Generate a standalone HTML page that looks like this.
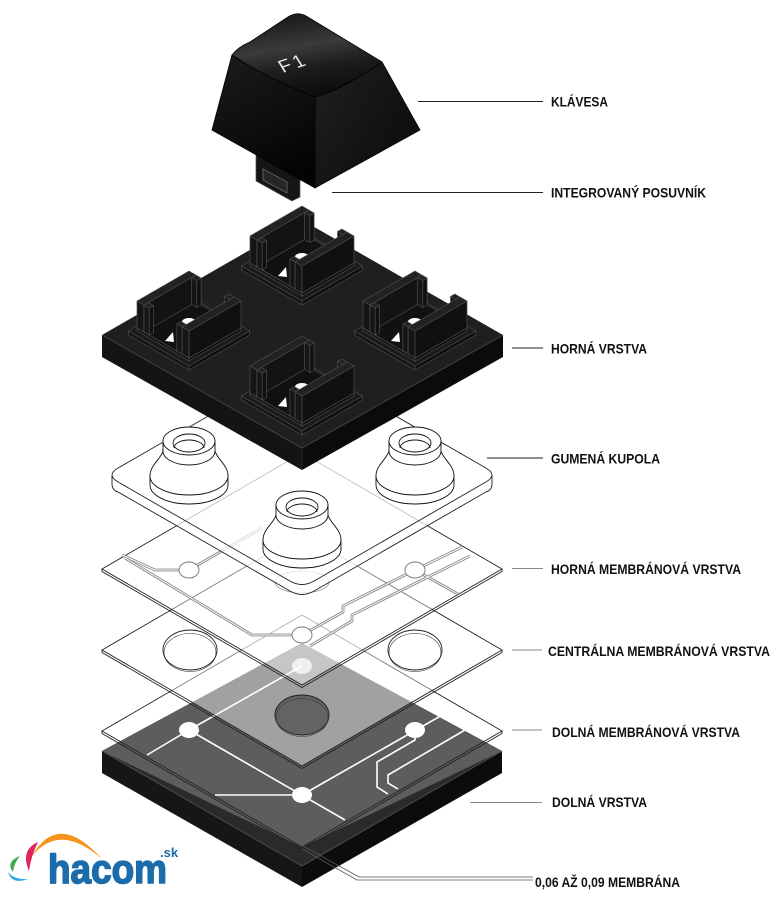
<!DOCTYPE html>
<html><head><meta charset="utf-8"><style>html,body{margin:0;padding:0;background:#fff}svg{display:block}</style></head>
<body>
<svg width="777" height="899" viewBox="0 0 777 899" xmlns="http://www.w3.org/2000/svg" xmlns:xlink="http://www.w3.org/1999/xlink">
<defs>
<linearGradient id="ktop" gradientUnits="userSpaceOnUse" x1="300" y1="18" x2="312" y2="96">
<stop offset="0" stop-color="#1e1e1e"/><stop offset="0.35" stop-color="#3a3a3a"/><stop offset="0.65" stop-color="#1c1c1c"/><stop offset="1" stop-color="#0c0c0c"/></linearGradient>
<linearGradient id="kleft" gradientUnits="userSpaceOnUse" x1="230" y1="60" x2="290" y2="180">
<stop offset="0" stop-color="#1a1a1a"/><stop offset="1" stop-color="#030303"/></linearGradient>
<linearGradient id="kright" gradientUnits="userSpaceOnUse" x1="330" y1="90" x2="410" y2="140">
<stop offset="0" stop-color="#1c1c1c"/><stop offset="1" stop-color="#0e0e0e"/></linearGradient>
<g id="hs" stroke="#4e4e4e" stroke-width="0.7" stroke-linejoin="round">
<polygon points="-60.6,-4 0,31 0,35 -60.6,0" fill="#141414"/>
<polygon points="0,31 60.6,-4 60.6,0 0,35" fill="#0e0e0e"/>
<polygon points="-60.6,-4 0,31 60.6,-4 0,-39" fill="#1b1b1b"/>
<polygon points="-52,-7 0,23 0,26 -52,-4" fill="#141414"/>
<polygon points="0,23 52,-7 52,-4 0,26" fill="#0e0e0e"/>
<polygon points="-52,-7 0,23 52,-7 0,-37" fill="#111"/>
<polygon points="-24,6 -15,7 -16,-3" fill="#fff" stroke="none"/>
<ellipse cx="0" cy="-13" rx="7" ry="4" fill="#fff" stroke="none"/>
<polygon points="-52,-34 -45,-30 -45,-3 -52,-7" fill="#151515"/>
<polygon points="-45,-30 6.9,-60 6.9,-33 -45,-3" fill="#131313"/>
<polygon points="-52,-34 -45,-30 6.9,-60 0,-64" fill="#222"/>
<polygon points="-45,-30 -39.8,-27 -39.8,0 -45,-3" fill="#151515"/>
<polygon points="-39.8,-27 -35.5,-29.5 -35.5,-2.5 -39.8,0" fill="#101010"/>
<polygon points="-45,-30 -39.8,-27 -35.5,-29.5 -40.7,-32.5" fill="#222"/>
<polygon points="2.6,-57.5 7.8,-54.5 7.8,-27.5 2.6,-30.5" fill="#151515"/>
<polygon points="7.8,-54.5 12.1,-57 12.1,-30 7.8,-27.5" fill="#101010"/>
<polygon points="2.6,-57.5 7.8,-54.5 12.1,-57 6.9,-60" fill="#222"/>
<polygon points="35.5,-38.5 40.7,-35.5 40.7,-8.5 35.5,-11.5" fill="#151515"/>
<polygon points="35.5,-38.5 40.7,-35.5 45,-38 39.8,-41" fill="#222"/>
<polygon points="-12.1,-11 -6.9,-8 -6.9,19 -12.1,16" fill="#151515"/>
<polygon points="-12.1,-11 -6.9,-8 -2.6,-10.5 -7.8,-13.5" fill="#222"/>
<polygon points="-6.9,-8 0,-4 0,23 -6.9,19" fill="#151515"/>
<polygon points="0,-4 52,-34 52,-7 0,23" fill="#101010"/>
<polygon points="-6.9,-8 0,-4 52,-34 45,-38" fill="#222"/>
</g>
<g id="dome" stroke="#111" stroke-width="0.9" fill="#fff">
<path d="M-39,35 L-39,44 A39,19 0 0 0 39,44 L39,35 Z"/>
<path d="M-39,35 C-39,24 -28,18 -26,10 L26,10 C28,18 39,24 39,35 A39,19 0 0 1 -39,35 Z"/>
<path d="M-26,0 L-26,10 A26,14 0 0 0 26,10 L26,0 Z"/>
<ellipse cx="0" cy="0" rx="26" ry="14"/>
<ellipse cx="0" cy="2" rx="16" ry="9"/>
<path d="M-15,7 A15,8 0 0 1 15,7" fill="none"/>
</g>
</defs>
<rect width="777" height="899" fill="#fff"/>

<!-- bottom slab -->
<polygon points="102,751 302,866 302,887 102,773" fill="#161616"/>
<polygon points="302,866 502,751 502,773 302,887" fill="#0c0c0c"/>
<polygon points="102,751 302,643 502,751 302,866" fill="#2a2a2a"/>
<polygon points="102,751 302,643 502,751 302,847" fill="#5d5d5d"/>
<polyline points="102,751 302,866 502,751" fill="none" stroke="#555" stroke-width="0.8"/>

<!-- bottom membrane traces -->
<g stroke="#fff" stroke-width="1.6" fill="none">
<line x1="189" y1="730" x2="147" y2="755"/>
<line x1="189" y1="730" x2="302" y2="666"/>
<line x1="189" y1="730" x2="345" y2="820"/>
<line x1="302" y1="795" x2="215" y2="795"/>
<line x1="302" y1="795" x2="458" y2="706"/>
<polyline points="415,730 415,740 377,762 377,787 388,794"/>
<polyline points="482,720 388,775 388,783 398,789"/>
</g>
<g fill="#fff">
<ellipse cx="189" cy="730" rx="10" ry="8"/>
<ellipse cx="415" cy="730" rx="10" ry="8"/>
<ellipse cx="302" cy="795" rx="10" ry="8"/>
<ellipse cx="302" cy="666" rx="10" ry="8" fill-opacity="0.75"/>
</g>
<g fill="none" stroke="#222" stroke-width="0.9">
<polygon points="102,731 302,615 502,731 302,847"/>
<polyline points="102,731 102,733.5 302,849.5 502,733.5 502,731"/>
</g>

<!-- central membrane -->
<polygon points="102,650 302,534 502,650 302,766" fill="#fff" fill-opacity="0.42" stroke="#222" stroke-width="0.9"/>
<polyline points="102,650 102,652.5 302,768.5 502,652.5 502,650" fill="none" stroke="#222" stroke-width="0.9"/>
<g stroke="#222" stroke-width="0.9">
<ellipse cx="190" cy="650" rx="27" ry="20" fill="#fff"/>
<ellipse cx="190" cy="652.5" rx="26" ry="19" fill="none" stroke-width="0.6"/>
<ellipse cx="415" cy="650" rx="27" ry="20" fill="#fff"/>
<ellipse cx="415" cy="652.5" rx="26" ry="19" fill="none" stroke-width="0.6"/>
<ellipse cx="302" cy="715" rx="27" ry="20" fill="#636363"/>
<ellipse cx="302" cy="717.5" rx="26" ry="19" fill="none" stroke="#333" stroke-width="0.6"/>
</g>

<!-- upper membrane -->
<polygon points="102,569 302,453 502,569 302,685" fill="#fff" fill-opacity="0.4" stroke="#222" stroke-width="0.9"/>
<polyline points="102,569 102,571.5 302,687.5 502,571.5 502,569" fill="none" stroke="#222" stroke-width="0.9"/>
<g fill="none" stroke="#8a8a8a" stroke-width="2.8" stroke-linejoin="round">
<polyline points="122,555 155,570 189,570"/>
<line x1="189" y1="570" x2="262" y2="528"/>
<polyline points="125,558 252,635 302,635"/>
<polyline points="462,547 415,570 343,606 343,612 302,635"/>
<polyline points="470,556 352,615 352,621 310,646"/>
<line x1="415" y1="570" x2="458" y2="594"/>
</g>
<g fill="none" stroke="#fff" stroke-width="1" stroke-linejoin="round">
<polyline points="122,555 155,570 189,570"/>
<line x1="189" y1="570" x2="262" y2="528"/>
<polyline points="125,558 252,635 302,635"/>
<polyline points="462,547 415,570 343,606 343,612 302,635"/>
<polyline points="470,556 352,615 352,621 310,646"/>
<line x1="415" y1="570" x2="458" y2="594"/>
</g>
<g fill="#fff" stroke="#777" stroke-width="0.9">
<ellipse cx="189" cy="570" rx="10" ry="8"/>
<ellipse cx="415" cy="570" rx="10" ry="8"/>
<ellipse cx="302" cy="635" rx="10" ry="8"/>
</g>
<ellipse cx="302" cy="582" rx="27" ry="11" fill="none" stroke="#999" stroke-width="0.8"/>

<!-- dome plate -->
<g opacity="0.72" fill="#fff">
<path transform="translate(0,10)" d="M118.1,468 L289.9,369 Q302,362 314.1,369 L485.9,468 Q498,475 485.9,482 L314.1,581 Q302,588 289.9,581 L118.1,482 Q106,475 118.1,468 Z"/>
<polygon points="112,475 302,588 492,475 492,485 302,598 112,485"/>
<path d="M118.1,468 L289.9,369 Q302,362 314.1,369 L485.9,468 Q498,475 485.9,482 L314.1,581 Q302,588 289.9,581 L118.1,482 Q106,475 118.1,468 Z"/>
</g>
<g fill="none" stroke="#222" stroke-width="0.9">
<path d="M118.1,468 L289.9,369 Q302,362 314.1,369 L485.9,468 Q498,475 485.9,482 L314.1,581 Q302,588 289.9,581 L118.1,482 Q106,475 118.1,468 Z"/>
<path d="M112,475 L112,485 Q113,491 118.1,492 L289.9,591 Q302,598 314.1,591 L485.9,492 Q491,491 492,485 L492,475"/>
</g>
<use xlink:href="#dome" href="#dome" x="302" y="377"/>
<use xlink:href="#dome" href="#dome" x="189" y="441"/>
<use xlink:href="#dome" href="#dome" x="415" y="441"/>
<use xlink:href="#dome" href="#dome" x="302" y="505"/>

<!-- top slab -->
<polygon points="102,335 302,448 302,470 102,357" fill="#141414"/>
<polygon points="302,448 503,335 503,357 302,470" fill="#0b0b0b"/>
<polygon points="102,335 302,220 503,335 302,448" fill="#1f1f1f"/>
<polyline points="102,335 302,448 503,335" fill="none" stroke="#4a4a4a" stroke-width="0.8"/>
<line x1="302" y1="448" x2="302" y2="470" stroke="#333" stroke-width="0.6"/>
<use xlink:href="#hs" href="#hs" x="302" y="270"/>
<use xlink:href="#hs" href="#hs" x="189" y="335"/>
<use xlink:href="#hs" href="#hs" x="415" y="335"/>
<use xlink:href="#hs" href="#hs" x="302" y="400"/>

<!-- keycap -->
<polygon points="256,150 256,181 292,201 300,197 300,170" fill="#151515" stroke="#555" stroke-width="0.7"/>
<polygon points="263,169 263,180 287,193 287,182" fill="#262626" stroke="#777" stroke-width="0.7"/>
<path d="M232,55 Q270,80 315,97 L315,188 L212,130 Z" fill="url(#kleft)" stroke="#000" stroke-width="0.8"/>
<path d="M315,97 Q345,88 382,62 L420,130 L315,188 Z" fill="url(#kright)" stroke="#000" stroke-width="0.8"/>
<path d="M232,55 Q238,47 250,42 L288,17 Q297,11 306,16 L382,62 Q345,88 315,97 Q270,80 232,55 Z" fill="url(#ktop)" stroke="#000" stroke-width="0.8"/>
<text transform="matrix(0.95,-0.32,0.52,0.85,283,73)" font-family="Liberation Sans, sans-serif" font-size="19" letter-spacing="3" fill="#e8e8e8">F1</text>

<!-- callout lines -->
<g stroke="#222" stroke-width="1">
<line x1="418" y1="101.5" x2="543" y2="101.5"/>
<line x1="332" y1="192.5" x2="543" y2="192.5"/>
<line x1="512" y1="348" x2="543" y2="348"/>
<line x1="487" y1="458" x2="543" y2="458"/>
</g>
<g stroke="#888" stroke-width="1">
<line x1="512" y1="568.5" x2="543" y2="568.5"/>
<line x1="512" y1="650" x2="542" y2="650"/>
<line x1="512" y1="730" x2="542" y2="730"/>
<line x1="470" y1="802.5" x2="542" y2="802.5"/>
</g>
<g fill="none" stroke="#555" stroke-width="0.8">
<polyline points="303,846 359,877 533,877"/>
<polyline points="302,849 357,880 533,880"/>
</g>

<!-- labels -->
<g font-family="Liberation Sans Narrow, Liberation Sans, sans-serif" font-weight="bold" font-size="14" fill="#111">
<text x="551" y="106.5" textLength="57" lengthAdjust="spacingAndGlyphs">KLÁVESA</text>
<text x="551" y="197.3" textLength="155" lengthAdjust="spacingAndGlyphs">INTEGROVANÝ POSUVNÍK</text>
<text x="551" y="353.3" textLength="96" lengthAdjust="spacingAndGlyphs">HORNÁ VRSTVA</text>
<text x="551" y="463.3" textLength="109" lengthAdjust="spacingAndGlyphs">GUMENÁ KUPOLA</text>
<text x="551" y="574" textLength="190" lengthAdjust="spacingAndGlyphs">HORNÁ MEMBRÁNOVÁ VRSTVA</text>
<text x="548" y="656" textLength="222" lengthAdjust="spacingAndGlyphs">CENTRÁLNA MEMBRÁNOVÁ VRSTVA</text>
<text x="552" y="737" textLength="188" lengthAdjust="spacingAndGlyphs">DOLNÁ MEMBRÁNOVÁ VRSTVA</text>
<text x="552" y="807" textLength="95" lengthAdjust="spacingAndGlyphs">DOLNÁ VRSTVA</text>
<text x="535" y="887" textLength="145" lengthAdjust="spacingAndGlyphs">0,06 AŽ 0,09 MEMBRÁNA</text>
</g>

<!-- logo -->
<path d="M32,856 Q58,810 102,859 Q60,822 32,856 Z" fill="#f7941d"/>
<path d="M38,842 Q20,850 29,871 Q31,856 38,842 Z" fill="#e2245c"/>
<path d="M20,856 Q5,862 13,872 Q14,863 20,856 Z" fill="#3fae49"/>
<path d="M8,872 Q12,885 28,879 Q14,880 8,872 Z" fill="#27aae1"/>
<text x="48" y="883" font-family="Liberation Sans, sans-serif" font-weight="bold" font-size="41" fill="#1c6cab" stroke="#1c6cab" stroke-width="1.6" stroke-linejoin="round" textLength="119" lengthAdjust="spacingAndGlyphs">hacom</text>
<text x="160" y="857" font-family="Liberation Sans, sans-serif" font-weight="bold" font-size="13" fill="#1c6cab">.sk</text>
</svg>
</body></html>
